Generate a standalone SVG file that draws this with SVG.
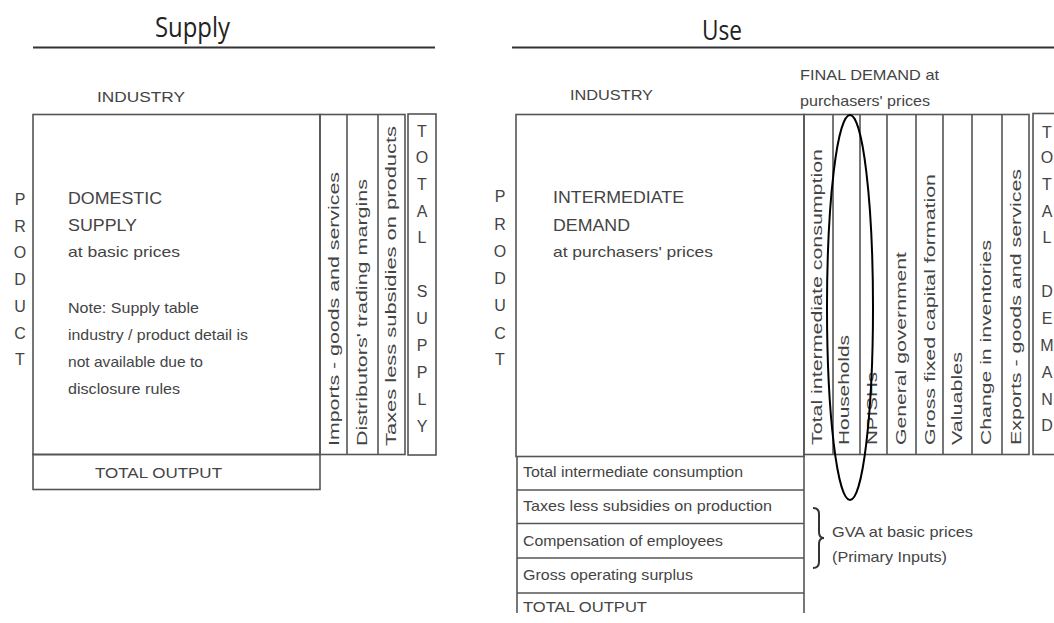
<svg xmlns="http://www.w3.org/2000/svg" width="1054" height="623" viewBox="0 0 1054 623">
<style>
.bg{fill:#fff}
.box{fill:none;stroke:#555;stroke-width:1.6}
.ln{stroke:#555;stroke-width:1.6;fill:none}
.rule{stroke:#333;stroke-width:2}
.title{font-family:"Open Sans","Liberation Sans",sans-serif;font-size:27px;fill:#222}
.t{font-family:"Liberation Sans",Arial,sans-serif;font-size:15px;fill:#444}
.tb{font-family:"Liberation Sans",Arial,sans-serif;font-size:17px;fill:#444}
.v{font-family:"Liberation Sans",Arial,sans-serif;font-size:15px;fill:#444}
.let{font-family:"Liberation Sans",Arial,sans-serif;font-size:16px;fill:#444;text-anchor:middle}
</style>
<rect class="bg" width="1054" height="623"/>

<!-- Supply side -->
<g id="supply-title">
<text class="title" x="155" y="37" textLength="75" lengthAdjust="spacingAndGlyphs">Supply</text>
<line class="rule" x1="33" y1="47.5" x2="435" y2="47.5"/>
</g>
<g id="supply-industry-label"><text class="t" x="97" y="102" textLength="88" lengthAdjust="spacingAndGlyphs">INDUSTRY</text></g>
<g id="supply-product-label">
<text class="let" x="20" y="205">P</text><text class="let" x="20" y="232">R</text><text class="let" x="20" y="258">O</text><text class="let" x="20" y="285">D</text><text class="let" x="20" y="312">U</text><text class="let" x="20" y="339">C</text><text class="let" x="20" y="365">T</text>
</g>
<g id="domestic-supply">
<rect class="box" x="33" y="114.5" width="287" height="340"/>
<text class="tb" x="68" y="204" textLength="94" lengthAdjust="spacingAndGlyphs">DOMESTIC</text>
<text class="tb" x="68" y="231" textLength="69" lengthAdjust="spacingAndGlyphs">SUPPLY</text>
<text class="t" x="68" y="257" textLength="112" lengthAdjust="spacingAndGlyphs">at basic prices</text>
<text class="t" x="68" y="313" textLength="131" lengthAdjust="spacingAndGlyphs">Note: Supply table</text>
<text class="t" x="68" y="340" textLength="180" lengthAdjust="spacingAndGlyphs">industry / product detail is</text>
<text class="t" x="68" y="367" textLength="135" lengthAdjust="spacingAndGlyphs">not available due to</text>
<text class="t" x="68" y="394" textLength="112" lengthAdjust="spacingAndGlyphs">disclosure rules</text>
</g>
<g id="supply-total-output">
<rect class="box" x="33" y="454.5" width="287" height="35"/>
<text class="t" x="95" y="478" textLength="127" lengthAdjust="spacingAndGlyphs">TOTAL OUTPUT</text>
</g>
<g id="supply-columns">
<rect class="box" x="320" y="114.5" width="85" height="340"/>
<line class="ln" x1="347" y1="114.5" x2="347" y2="454.5"/>
<line class="ln" x1="378" y1="114.5" x2="378" y2="454.5"/>
<text class="v" transform="translate(339,446) rotate(-90)" textLength="274" lengthAdjust="spacingAndGlyphs">Imports - goods and services</text>
<text class="v" transform="translate(367,446) rotate(-90)" textLength="267" lengthAdjust="spacingAndGlyphs">Distributors' trading margins</text>
<text class="v" transform="translate(396,446) rotate(-90)" textLength="320" lengthAdjust="spacingAndGlyphs">Taxes less subsidies on products</text>
</g>
<g id="total-supply">
<rect class="box" x="408" y="114" width="28" height="341"/>
<text class="let" x="422" y="137">T</text><text class="let" x="422" y="163">O</text><text class="let" x="422" y="190">T</text><text class="let" x="422" y="217">A</text><text class="let" x="422" y="243">L</text>
<text class="let" x="422" y="297">S</text><text class="let" x="422" y="324">U</text><text class="let" x="422" y="351">P</text><text class="let" x="422" y="378">P</text><text class="let" x="422" y="405">L</text><text class="let" x="422" y="432">Y</text>
</g>

<!-- Use side -->
<g id="use-title">
<text class="title" x="702" y="40" textLength="40" lengthAdjust="spacingAndGlyphs">Use</text>
<line class="rule" x1="512" y1="47.5" x2="1054" y2="47.5"/>
</g>
<g id="use-industry-label"><text class="t" x="570" y="100" textLength="83" lengthAdjust="spacingAndGlyphs">INDUSTRY</text></g>
<g id="final-demand-label">
<text class="t" x="800" y="80" textLength="139" lengthAdjust="spacingAndGlyphs">FINAL DEMAND at</text>
<text class="t" x="800" y="106" textLength="130" lengthAdjust="spacingAndGlyphs">purchasers' prices</text>
</g>
<g id="use-product-label">
<text class="let" x="500" y="202">P</text><text class="let" x="500" y="230">R</text><text class="let" x="500" y="257">O</text><text class="let" x="500" y="284">D</text><text class="let" x="500" y="311">U</text><text class="let" x="500" y="339">C</text><text class="let" x="500" y="365">T</text>
</g>
<g id="intermediate-demand">
<rect class="box" x="516" y="114.5" width="288" height="342"/>
<text class="tb" x="553" y="203" textLength="131" lengthAdjust="spacingAndGlyphs">INTERMEDIATE</text>
<text class="tb" x="553" y="231" textLength="77" lengthAdjust="spacingAndGlyphs">DEMAND</text>
<text class="t" x="553" y="257" textLength="160" lengthAdjust="spacingAndGlyphs">at purchasers' prices</text>
</g>
<g id="final-demand-columns">
<rect class="box" x="804" y="114.5" width="225" height="340"/>
<line class="ln" x1="833" y1="114.5" x2="833" y2="454.5"/>
<line class="ln" x1="860" y1="114.5" x2="860" y2="454.5"/>
<line class="ln" x1="887" y1="114.5" x2="887" y2="454.5"/>
<line class="ln" x1="916" y1="114.5" x2="916" y2="454.5"/>
<line class="ln" x1="943" y1="114.5" x2="943" y2="454.5"/>
<line class="ln" x1="972" y1="114.5" x2="972" y2="454.5"/>
<line class="ln" x1="1002" y1="114.5" x2="1002" y2="454.5"/>
<text class="v" transform="translate(822,445) rotate(-90)" textLength="296" lengthAdjust="spacingAndGlyphs">Total intermediate consumption</text>
<text class="v" transform="translate(849,445) rotate(-90)" textLength="110" lengthAdjust="spacingAndGlyphs">Households</text>
<text class="v" transform="translate(877,445) rotate(-90)" textLength="73" lengthAdjust="spacingAndGlyphs">NPISHs</text>
<text class="v" transform="translate(906,445) rotate(-90)" textLength="193" lengthAdjust="spacingAndGlyphs">General government</text>
<text class="v" transform="translate(935,445) rotate(-90)" textLength="271" lengthAdjust="spacingAndGlyphs">Gross fixed capital formation</text>
<text class="v" transform="translate(962,445) rotate(-90)" textLength="93" lengthAdjust="spacingAndGlyphs">Valuables</text>
<text class="v" transform="translate(991,445) rotate(-90)" textLength="205" lengthAdjust="spacingAndGlyphs">Change in inventories</text>
<text class="v" transform="translate(1021,445) rotate(-90)" textLength="276" lengthAdjust="spacingAndGlyphs">Exports - goods and services</text>
</g>
<g id="total-demand">
<rect class="box" x="1033" y="113.5" width="40" height="341"/>
<text class="let" x="1047" y="138">T</text><text class="let" x="1047" y="163">O</text><text class="let" x="1047" y="190">T</text><text class="let" x="1047" y="217">A</text><text class="let" x="1047" y="243">L</text>
<text class="let" x="1047" y="297">D</text><text class="let" x="1047" y="324">E</text><text class="let" x="1047" y="351">M</text><text class="let" x="1047" y="378">A</text><text class="let" x="1047" y="405">N</text><text class="let" x="1047" y="431">D</text>
</g>
<g id="input-rows">
<line class="ln" x1="517" y1="456.5" x2="517" y2="613"/>
<line class="ln" x1="804" y1="454.5" x2="804" y2="613"/>
<line class="ln" x1="517" y1="490" x2="804" y2="490"/>
<line class="ln" x1="517" y1="523.5" x2="804" y2="523.5"/>
<line class="ln" x1="517" y1="558" x2="804" y2="558"/>
<line class="ln" x1="517" y1="593" x2="804" y2="593"/>
<text class="t" x="523" y="477" textLength="220" lengthAdjust="spacingAndGlyphs">Total intermediate consumption</text>
<text class="t" x="523" y="511" textLength="249" lengthAdjust="spacingAndGlyphs">Taxes less subsidies on production</text>
<text class="t" x="523" y="546" textLength="200" lengthAdjust="spacingAndGlyphs">Compensation of employees</text>
<text class="t" x="523" y="580" textLength="170" lengthAdjust="spacingAndGlyphs">Gross operating surplus</text>
<text class="t" x="523" y="612" textLength="124" lengthAdjust="spacingAndGlyphs">TOTAL OUTPUT</text>
</g>
<g id="gva-note">
<path d="M813,508 Q819,508 819,514 L819,532 Q819,538 824,538 Q819,538 819,544 L819,562 Q819,568 813,568" fill="none" stroke="#333" stroke-width="2"/>
<text class="t" x="832" y="537" textLength="141" lengthAdjust="spacingAndGlyphs">GVA at basic prices</text>
<text class="t" x="832" y="562" textLength="115" lengthAdjust="spacingAndGlyphs">(Primary Inputs)</text>
</g>
<g id="households-highlight">
<ellipse cx="850" cy="307.5" rx="23" ry="192.5" fill="none" stroke="#000" stroke-width="2"/>
</g>
</svg>
